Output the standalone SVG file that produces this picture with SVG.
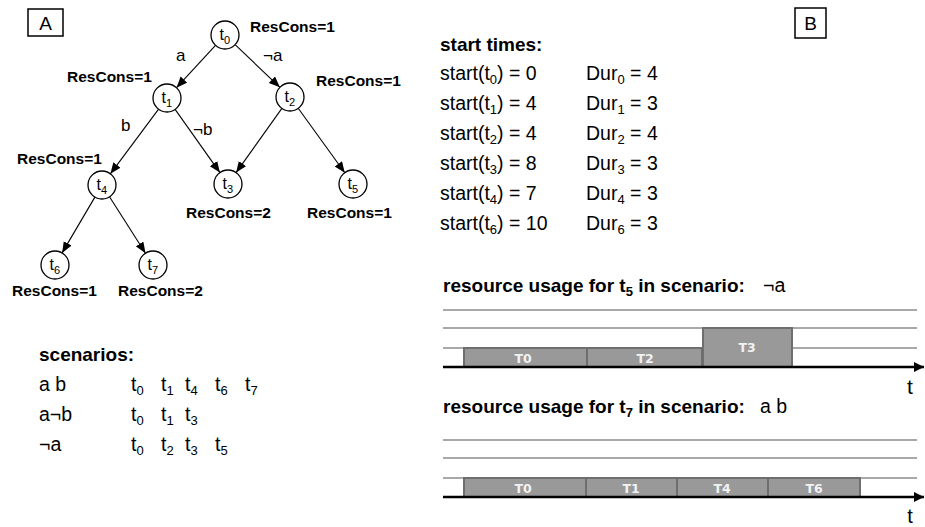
<svg xmlns="http://www.w3.org/2000/svg" width="925" height="527" viewBox="0 0 925 527">
<defs>
<style>
text{font-family:"Liberation Sans",Arial,sans-serif;fill:#000}
.node{fill:#fff;stroke:#000;stroke-width:1.3}
.nl{font-size:16px}
.sub{font-size:11px}
.rc{font-size:15.5px;font-weight:bold}
.el{font-size:17px}
.h{font-size:19px;font-weight:bold}
.r{font-size:19.5px}
.s13{font-size:13px}
.edge{stroke:#000;stroke-width:1.1;fill:none;marker-end:url(#ah)}
.grid{stroke:#8c8c8c;stroke-width:1.3}
.axis{stroke:#000;stroke-width:2.5;marker-end:url(#ax)}
.bar{fill:#999;stroke:#6e6e6e;stroke-width:2}
.bl{font-family:"DejaVu Sans",sans-serif;font-size:12.5px;font-weight:bold;fill:#f2f2f2;text-anchor:middle}
.box{fill:#fff;stroke:#000;stroke-width:1.5}
</style>
<marker id="ah" markerUnits="userSpaceOnUse" markerWidth="12" markerHeight="10" refX="11" refY="4.5" orient="auto">
<path d="M0,0 L11,4.5 L0,9 Z" fill="#000"/>
</marker>
<marker id="ax" markerUnits="userSpaceOnUse" markerWidth="12" markerHeight="12" refX="10" refY="5" orient="auto">
<path d="M0,0 L10,5 L0,10 Z" fill="#000"/>
</marker>
</defs>
<rect width="925" height="527" fill="#fff"/>

<g id="labelA">
<rect class="box" x="28" y="9" width="35" height="27"/>
<text x="45.5" y="29.5" font-size="19" text-anchor="middle">A</text>
</g>
<g id="labelB">
<rect class="box" x="795" y="8" width="31" height="30"/>
<text x="810.5" y="30" font-size="19" text-anchor="middle">B</text>
</g>

<g id="connectors">
<line class="edge" x1="215.5" y1="45.3" x2="176.5" y2="87.7"/>
<line class="edge" x1="235.1" y1="44.7" x2="279.9" y2="87.3"/>
<line class="edge" x1="158.6" y1="109.2" x2="110.4" y2="173.8"/>
<line class="edge" x1="175.1" y1="109.4" x2="219.9" y2="172.6"/>
<line class="edge" x1="281.9" y1="108.4" x2="236.1" y2="172.6"/>
<line class="edge" x1="298.2" y1="108.3" x2="344.8" y2="172.7"/>
<line class="edge" x1="94.9" y1="197.1" x2="62.1" y2="252.9"/>
<line class="edge" x1="109.5" y1="196.8" x2="145.5" y2="253.2"/>
<text class="el" x="176" y="61">a</text>
<text class="el" x="263" y="61">¬a</text>
<text class="el" x="121" y="131">b</text>
<text class="el" x="193" y="135">¬b</text>
</g>

<g id="t0">
<circle class="node" cx="225" cy="35" r="14"/>
<text class="nl" x="219.5" y="40">t<tspan class="sub" dy="4">0</tspan></text>
<text class="rc" x="250" y="32">ResCons=1</text>
</g>
<g id="t1">
<circle class="node" cx="167" cy="98" r="14"/>
<text class="nl" x="161.5" y="103">t<tspan class="sub" dy="4">1</tspan></text>
<text class="rc" x="67" y="82">ResCons=1</text>
</g>
<g id="t2">
<circle class="node" cx="290" cy="97" r="14"/>
<text class="nl" x="284.5" y="102">t<tspan class="sub" dy="4">2</tspan></text>
<text class="rc" x="316" y="86">ResCons=1</text>
</g>
<g id="t3">
<circle class="node" cx="228" cy="184" r="14"/>
<text class="nl" x="222.5" y="189">t<tspan class="sub" dy="4">3</tspan></text>
<text class="rc" x="186" y="218">ResCons=2</text>
</g>
<g id="t4">
<circle class="node" cx="102" cy="185" r="14"/>
<text class="nl" x="96.5" y="190">t<tspan class="sub" dy="4">4</tspan></text>
<text class="rc" x="17" y="164">ResCons=1</text>
</g>
<g id="t5">
<circle class="node" cx="353" cy="184" r="14"/>
<text class="nl" x="347.5" y="189">t<tspan class="sub" dy="4">5</tspan></text>
<text class="rc" x="307" y="218">ResCons=1</text>
</g>
<g id="t6">
<circle class="node" cx="55" cy="265" r="14"/>
<text class="nl" x="49.5" y="270">t<tspan class="sub" dy="4">6</tspan></text>
<text class="rc" x="12" y="296">ResCons=1</text>
</g>
<g id="t7">
<circle class="node" cx="153" cy="265" r="14"/>
<text class="nl" x="147.5" y="270">t<tspan class="sub" dy="4">7</tspan></text>
<text class="rc" x="118" y="296">ResCons=2</text>
</g>

<g id="scenarios">
<text class="h" x="39" y="361">scenarios:</text>
<text class="r" x="39" y="391">a b</text>
<text class="r" x="39" y="421">a¬b</text>
<text class="r" x="39" y="451">¬a</text>
<text class="r" x="131" y="391">t<tspan class="s13" dy="4">0</tspan></text>
<text class="r" x="161" y="391">t<tspan class="s13" dy="4">1</tspan></text>
<text class="r" x="185" y="391">t<tspan class="s13" dy="4">4</tspan></text>
<text class="r" x="215" y="391">t<tspan class="s13" dy="4">6</tspan></text>
<text class="r" x="245" y="391">t<tspan class="s13" dy="4">7</tspan></text>
<text class="r" x="131" y="421">t<tspan class="s13" dy="4">0</tspan></text>
<text class="r" x="161" y="421">t<tspan class="s13" dy="4">1</tspan></text>
<text class="r" x="185" y="421">t<tspan class="s13" dy="4">3</tspan></text>
<text class="r" x="131" y="451">t<tspan class="s13" dy="4">0</tspan></text>
<text class="r" x="161" y="451">t<tspan class="s13" dy="4">2</tspan></text>
<text class="r" x="185" y="451">t<tspan class="s13" dy="4">3</tspan></text>
<text class="r" x="215" y="451">t<tspan class="s13" dy="4">5</tspan></text>
</g>

<g id="starttimes">
<text class="h" x="440" y="51">start times:</text>
<text class="r" x="440" y="80">start(t<tspan class="s13" dy="4">0</tspan><tspan dy="-4">) = 0</tspan></text>
<text class="r" x="440" y="110">start(t<tspan class="s13" dy="4">1</tspan><tspan dy="-4">) = 4</tspan></text>
<text class="r" x="440" y="140">start(t<tspan class="s13" dy="4">2</tspan><tspan dy="-4">) = 4</tspan></text>
<text class="r" x="440" y="170">start(t<tspan class="s13" dy="4">3</tspan><tspan dy="-4">) = 8</tspan></text>
<text class="r" x="440" y="200">start(t<tspan class="s13" dy="4">4</tspan><tspan dy="-4">) = 7</tspan></text>
<text class="r" x="440" y="230">start(t<tspan class="s13" dy="4">6</tspan><tspan dy="-4">) = 10</tspan></text>
<text class="r" x="586" y="80">Dur<tspan class="s13" dy="4">0</tspan><tspan dy="-4"> = 4</tspan></text>
<text class="r" x="586" y="110">Dur<tspan class="s13" dy="4">1</tspan><tspan dy="-4"> = 3</tspan></text>
<text class="r" x="586" y="140">Dur<tspan class="s13" dy="4">2</tspan><tspan dy="-4"> = 4</tspan></text>
<text class="r" x="586" y="170">Dur<tspan class="s13" dy="4">3</tspan><tspan dy="-4"> = 3</tspan></text>
<text class="r" x="586" y="200">Dur<tspan class="s13" dy="4">4</tspan><tspan dy="-4"> = 3</tspan></text>
<text class="r" x="586" y="230">Dur<tspan class="s13" dy="4">6</tspan><tspan dy="-4"> = 3</tspan></text>
</g>

<g id="chart1">
<text class="h" x="443" y="292">resource usage for t<tspan class="s13" dy="4">5</tspan><tspan dy="-4"> in scenario:</tspan></text>
<text class="r" x="763" y="292">¬a</text>
<line class="grid" x1="443" y1="310" x2="917" y2="310"/>
<line class="grid" x1="443" y1="328" x2="917" y2="328"/>
<line class="grid" x1="443" y1="348" x2="917" y2="348"/>
<rect class="bar" x="464" y="348" width="123" height="19"/>
<rect class="bar" x="587" y="348" width="115" height="19"/>
<rect class="bar" x="703" y="328" width="89" height="39"/>
<text class="bl" x="523" y="363">T0</text>
<text class="bl" x="645" y="363">T2</text>
<text class="bl" x="747" y="352">T3</text>
<line class="axis" x1="443" y1="367" x2="924" y2="367"/>
<text x="910" y="394" font-size="21" text-anchor="middle">t</text>
</g>

<g id="chart2">
<text class="h" x="443" y="413">resource usage for t<tspan class="s13" dy="4">7</tspan><tspan dy="-4"> in scenario:</tspan></text>
<text class="r" x="760" y="413">a b</text>
<line class="grid" x1="443" y1="440" x2="917" y2="440"/>
<line class="grid" x1="443" y1="458" x2="917" y2="458"/>
<line class="grid" x1="443" y1="478" x2="917" y2="478"/>
<rect class="bar" x="464" y="478" width="122" height="19"/>
<rect class="bar" x="586" y="478" width="91" height="19"/>
<rect class="bar" x="677" y="478" width="91" height="19"/>
<rect class="bar" x="768" y="478" width="92" height="19"/>
<text class="bl" x="523" y="493">T0</text>
<text class="bl" x="631" y="493">T1</text>
<text class="bl" x="722" y="493">T4</text>
<text class="bl" x="814" y="493">T6</text>
<line class="axis" x1="443" y1="497" x2="924" y2="497"/>
<text x="910" y="523" font-size="20" text-anchor="middle">t</text>
</g>
</svg>
